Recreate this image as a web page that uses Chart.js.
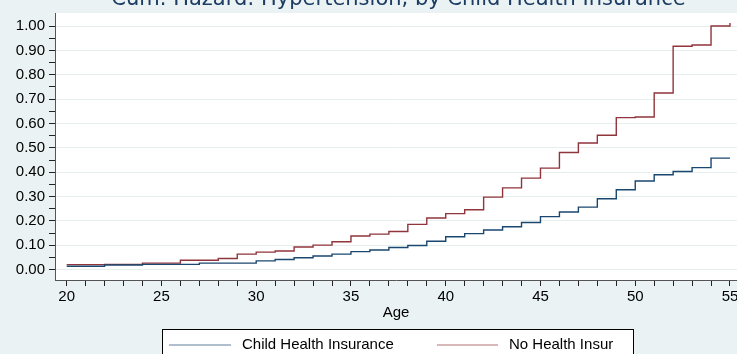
<!DOCTYPE html>
<html><head><meta charset="utf-8">
<script src="https://cdn.jsdelivr.net/npm/chart.js@4/dist/chart.umd.min.js"></script>
<style>html,body{margin:0;padding:0;background:#eaf2f3;overflow:hidden}#wrap{width:737px;height:354px;position:relative}</style>
</head><body><div id="wrap"><canvas id="c" width="737" height="354"></canvas></div>
<script>
const chartTitle = 'Cum. Hazard: Hypertension, by Child Health Insurance';
const xAxisTitle = 'Age';
const seriesNames = ['Child Health Insurance', 'No Health Insur'];

const childAges   = [20, 22, 24, 27, 30, 31, 32, 33, 34, 35, 36, 37, 38, 39, 40, 41, 42, 43, 44, 45, 46, 47, 48, 49, 50, 51, 52, 53, 54, 55];
const childHazard = [0.014, 0.019, 0.022, 0.027, 0.036, 0.042, 0.049, 0.056, 0.064, 0.074, 0.081, 0.091, 0.099, 0.117, 0.135, 0.148, 0.163, 0.176, 0.194, 0.218, 0.237, 0.257, 0.291, 0.328, 0.364, 0.390, 0.403, 0.419, 0.458, 0.458];

const noInsAges   = [20, 22, 24, 26, 28, 29, 30, 31, 32, 33, 34, 35, 36, 37, 38, 39, 40, 41, 42, 43, 44, 45, 46, 47, 48, 49, 50, 51, 52, 53, 54, 55];
const noInsHazard = [0.021, 0.022, 0.027, 0.039, 0.046, 0.064, 0.072, 0.077, 0.093, 0.101, 0.115, 0.138, 0.146, 0.157, 0.186, 0.212, 0.230, 0.246, 0.298, 0.336, 0.376, 0.417, 0.481, 0.520, 0.552, 0.624, 0.627, 0.725, 0.917, 0.922, 1.000, 1.013];

const xTickValues = [20,21,22,23,24,25,26,27,28,29,30,31,32,33,34,35,36,37,38,39,40,41,42,43,44,45,46,47,48,49,50,51,52,53,54,55];
const xTickLabels = ['20','25','30','35','40','45','50','55'];
const yTickValues = [0,0.05,0.1,0.15,0.2,0.25,0.3,0.35,0.4,0.45,0.5,0.55,0.6,0.65,0.7,0.75,0.8,0.85,0.9,0.95,1.0];
const yTickLabels = ['0.00','0.10','0.20','0.30','0.40','0.50','0.60','0.70','0.80','0.90','1.00'];

const BLUE = '#1a476f', RED = '#90353b', BG = '#eaf2f3';
const toPts = (xs, ys) => xs.map((x, i) => ({x: x, y: ys[i]}));

const decor = {
  id: 'decor',
  beforeDraw(chart) {
    const ctx = chart.ctx, a = chart.chartArea;
    ctx.save();
    ctx.fillStyle = BG; ctx.fillRect(0, 0, chart.width, chart.height);
    ctx.fillStyle = '#ffffff'; ctx.fillRect(a.left, a.top, a.right - a.left, a.bottom - a.top);
    ctx.restore();
  },
  afterDraw(chart) {
    const ctx = chart.ctx;
    ctx.save();
    ctx.fillStyle = '#1c3c64';
    ctx.font = '21px "DejaVu Sans"';
    ctx.textAlign = 'center'; ctx.textBaseline = 'alphabetic';
    ctx.fillText(chartTitle, 398.5, 5);
    // legend
    ctx.fillStyle = '#ffffff';
    ctx.fillRect(162.5, 329.5, 471, 40);
    ctx.strokeStyle = '#000000'; ctx.lineWidth = 1;
    ctx.strokeRect(162.5, 329.5, 471, 40);
    const ds = chart.data.datasets;
    const items = [{x1: 169, x2: 231, tx: 242}, {x1: 437, x2: 498, tx: 509}];
    ctx.font = '15px "Liberation Sans"'; ctx.textAlign = 'left'; ctx.textBaseline = 'middle';
    items.forEach((it, i) => {
      ctx.strokeStyle = ds[i].borderColor; ctx.lineWidth = 1; ctx.globalAlpha = 0.7;
      ctx.beginPath(); ctx.moveTo(it.x1, 345); ctx.lineTo(it.x2, 345); ctx.stroke();
      ctx.globalAlpha = 1;
      ctx.fillStyle = '#000000';
      ctx.fillText(ds[i].label, it.tx, 345);
    });
    ctx.restore();
  }
};

new Chart(document.getElementById('c'), {
  type: 'line',
  data: {
    datasets: [
      {label: seriesNames[0], data: toPts(childAges, childHazard), borderColor: BLUE, borderWidth: 1.4, stepped: true, pointRadius: 0, fill: false},
      {label: seriesNames[1], data: toPts(noInsAges, noInsHazard), borderColor: RED, borderWidth: 1.4, stepped: true, pointRadius: 0, fill: false}
    ]
  },
  options: {
    responsive: false, animation: false, devicePixelRatio: 1,
    layout: {padding: {top: 8, right: 0, bottom: 0, left: 0}},
    plugins: {legend: {display: false}, title: {display: false}, tooltip: {enabled: false}},
    scales: {
      x: {
        type: 'linear', min: 19.383, max: 55.37,
        afterBuildTicks: s => { s.ticks = xTickValues.map(v => ({value: v})); },
        afterFit: s => { s.height = 74; s.paddingLeft = 0; s.paddingRight = 0; },
        ticks: {autoSkip: false, maxRotation: 0, padding: 2, color: '#000',
          font: {family: '"Liberation Sans", Arial', size: 15},
          callback: v => { const l = String(v); return xTickLabels.includes(l) ? l : ''; }},
        grid: {drawOnChartArea: false, drawTicks: true, tickLength: 6, tickColor: '#222'},
        border: {display: true, color: '#555', width: 1},
        title: {display: true, text: xAxisTitle, color: '#000', font: {family: '"Liberation Sans", Arial', size: 15}, padding: {top: 0, bottom: 32}}
      },
      y: {
        type: 'linear', min: -0.0423, max: 1.0536,
        afterBuildTicks: s => { s.ticks = yTickValues.map(v => ({value: v})); },
        afterFit: s => { s.width = 55; },
        ticks: {autoSkip: false, padding: 4, color: '#000',
          font: {family: '"Liberation Sans", Arial', size: 15},
          callback: v => { const l = v.toFixed(2); return (Math.round(v * 100) % 10 === 0 && yTickLabels.includes(l)) ? l : ''; }},
        grid: {drawTicks: true, tickLength: 6, tickColor: '#222',
          color: c => (c.tick && Math.round(c.tick.value * 100) % 10 === 0) ? '#e6eeee' : 'rgba(0,0,0,0)'},
        border: {display: true, color: '#555', width: 1}
      }
    }
  },
  plugins: [decor]
});
</script></body></html>
